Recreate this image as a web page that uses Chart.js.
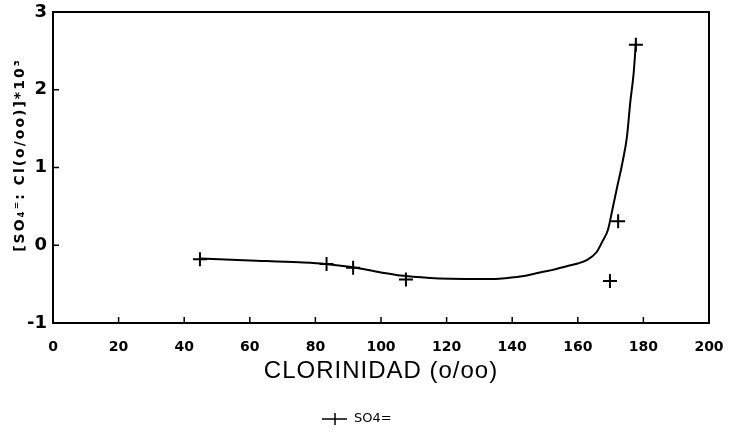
<!DOCTYPE html>
<html>
<head>
<meta charset="utf-8">
<script src="https://cdn.jsdelivr.net/npm/chart.js@4/dist/chart.umd.min.js"></script>
<style>
  html, body { margin: 0; padding: 0; background: #fff; }
  #wrap { width: 729px; height: 435px; position: relative; }
</style>
</head>
<body>
<div id="wrap"><canvas id="sulfChart" width="729" height="435"></canvas></div>
<script>
// measured points (clorinidad o/oo, SO4=:Cl ratio *10^3)
const ptX = [44.8, 83.4, 91.5, 107.6, 169.8, 172.3, 177.7];
const ptY = [-0.18, -0.24, -0.29, -0.44, -0.46, 0.31, 2.58];

// fitted curve
const fitX = [45, 60, 75, 83, 91, 100, 106, 115, 121, 130, 136, 143, 148.5, 152, 156.6, 160, 162.7, 165.7, 167.5, 169.2, 170.5, 172, 173.4, 175, 176, 177, 177.7];
const fitY = [-0.17, -0.195, -0.22, -0.24, -0.28, -0.35, -0.39, -0.42, -0.43, -0.435, -0.43, -0.40, -0.35, -0.32, -0.27, -0.235, -0.19, -0.09, 0.05, 0.2, 0.45, 0.75, 1.02, 1.4, 1.84, 2.2, 2.6];

const xTitle = 'CLORINIDAD (o/oo)';
const yTitle = '[SO\u2084\u207C: Cl(o/oo)]*10\u00B3';
const seriesName = 'SO4=';

function toXY(xs, ys) {
    return xs.map((x, i) => ({ x: x, y: ys[i] }));
}

// box, inward ticks, axis titles and legend
const framePlugin = {
    id: 'frame',
    afterDraw(chart) {
        const ctx = chart.ctx;
        const a = chart.chartArea;
        const xs = chart.scales.x, ys = chart.scales.y;
        ctx.save();
        ctx.strokeStyle = '#000';
        ctx.lineWidth = 2;
        ctx.strokeRect(a.left, a.top, a.right - a.left, a.bottom - a.top);

        ctx.lineWidth = 1.5;
        ctx.beginPath();
        xs.ticks.forEach(t => {
            let px = xs.getPixelForValue(t.value);
            ctx.moveTo(px, a.bottom);
            ctx.lineTo(px, a.bottom - 6);
        });
        ys.ticks.forEach(t => {
            let py = ys.getPixelForValue(t.value);
            ctx.moveTo(a.left, py);
            ctx.lineTo(a.left + 6, py);
        });
        ctx.stroke();

        ctx.fillStyle = '#000';
        ctx.textAlign = 'center';
        ctx.textBaseline = 'middle';
        ctx.font = '24px "Liberation Sans", Arial, sans-serif';
        ctx.letterSpacing = '1px';
        ctx.fillText(xTitle, (a.left + a.right) / 2, 371);

        ctx.save();
        ctx.translate(20, 155);
        ctx.rotate(-Math.PI / 2);
        ctx.font = 'bold 14px "DejaVu Sans", sans-serif';
        ctx.letterSpacing = '2px';
        ctx.fillText(yTitle, 0, 0);
        ctx.restore();

        // legend
        let ly = 419;
        ctx.letterSpacing = '0px';
        ctx.lineWidth = 1.5;
        ctx.beginPath();
        ctx.moveTo(322, ly);
        ctx.lineTo(347, ly);
        ctx.moveTo(335, ly - 6);
        ctx.lineTo(335, ly + 6);
        ctx.stroke();
        ctx.textAlign = 'left';
        ctx.font = '13px "DejaVu Sans", sans-serif';
        ctx.fillText(seriesName, 354, ly);
        ctx.restore();
    }
};

new Chart(document.getElementById('sulfChart'), {
    type: 'scatter',
    data: {
        datasets: [{
            label: 'curve',
            data: toXY(fitX, fitY),
            showLine: true,
            cubicInterpolationMode: 'monotone',
            borderColor: '#000',
            borderWidth: 2,
            pointRadius: 0
        }, {
            label: seriesName,
            data: toXY(ptX, ptY),
            showLine: false,
            pointStyle: 'cross',
            pointRadius: 7,
            borderColor: '#000',
            borderWidth: 2
        }]
    },
    options: {
        responsive: false,
        animation: false,
        devicePixelRatio: 1,
        layout: { padding: { top: 12, right: 20, left: 0, bottom: 0 } },
        plugins: {
            legend: { display: false },
            tooltip: { enabled: false }
        },
        scales: {
            x: {
                type: 'linear',
                min: 0, max: 200,
                grid: { display: false, drawTicks: false },
                border: { display: false },
                ticks: {
                    stepSize: 20,
                    padding: 16,
                    maxRotation: 0,
                    autoSkip: false,
                    color: '#000',
                    font: { family: '"DejaVu Sans", sans-serif', size: 14, weight: 'bold' }
                },
                afterFit(scale) {
                    scale.height = 112;
                    scale.paddingLeft = 0;
                    scale.paddingRight = 0;
                }
            },
            y: {
                min: -1, max: 3,
                grid: { display: false, drawTicks: false },
                border: { display: false },
                ticks: {
                    stepSize: 1,
                    padding: 6,
                    color: '#000',
                    font: { family: '"DejaVu Sans", sans-serif', size: 18, weight: 'bold' }
                },
                afterFit(scale) {
                    scale.width = 53;
                    scale.paddingTop = 0;
                    scale.paddingBottom = 0;
                }
            }
        }
    },
    plugins: [framePlugin]
});
</script>
</body>
</html>
